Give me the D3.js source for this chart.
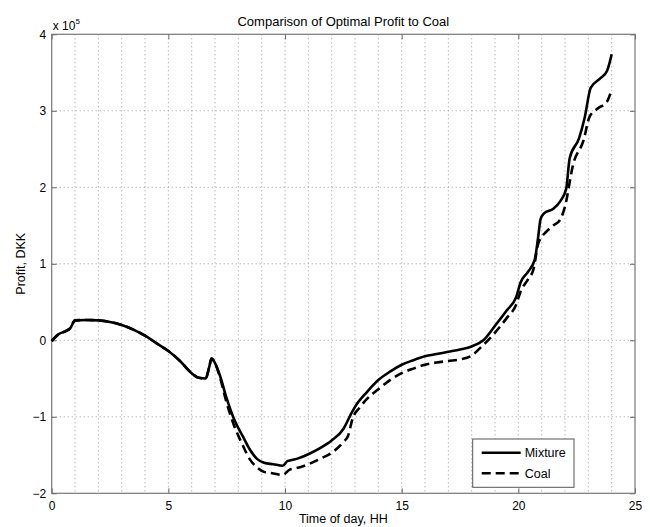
<!DOCTYPE html>
<html>
<head>
<meta charset="utf-8">
<script src="https://cdn.jsdelivr.net/npm/d3@7"></script>
<style>
  body { margin: 0; background: #fff; }
  text { font-family: "Liberation Sans", Arial, sans-serif; fill: #000; }
</style>
</head>
<body>
<div id="chart"></div>
<script>
// values (profit in DKK, time in hours)
var mixtureHours = [0, 0.3, 0.6, 0.8, 1.0, 1.5, 2.0, 2.5, 3.0, 3.5, 4.0, 4.5, 5.0, 5.5, 6.0, 6.3, 6.6, 6.75, 6.85, 6.95,
    7.2, 7.5, 7.8, 8.2, 8.5, 8.8, 9.1, 9.5, 9.9, 10.1, 10.5, 11.0, 11.5, 12.0, 12.5, 12.8, 13.0, 13.5, 14.0, 14.5,
    15.0, 15.5, 16.0, 16.5, 17.0, 17.5, 18.0, 18.5, 19.0, 19.5, 19.9, 20.1, 20.4, 20.7, 20.85, 20.95, 21.1, 21.5,
    21.8, 22.05, 22.2, 22.6, 22.85, 23.1, 23.5, 23.8, 24.0];
var mixtureProfit = [-1000, 8000, 12000, 16000, 26000, 26500, 26000, 24000, 20000, 14000, 6000, -4000, -14000, -27000, -43000, -49000, -50000, -35000, -24000, -27000,
    -45000, -76000, -102000, -126000, -143000, -155000, -160000, -162000, -164000, -158000, -155000, -149000, -141000, -131000, -116000, -98000, -87000, -68000, -52000, -41000,
    -32000, -26000, -21000, -18000, -15000, -12000, -8000, 0, 19000, 39000, 56000, 76000, 89000, 105000, 135000, 158000, 166000, 172000,
    182000, 198000, 238000, 264000, 292000, 330000, 342000, 352000, 374000];

var coalHours = [0, 0.3, 0.6, 0.8, 1.0, 1.5, 2.0, 2.5, 3.0, 3.5, 4.0, 4.5, 5.0, 5.5, 6.0, 6.3, 6.6, 6.75, 6.85, 6.95,
    7.2, 7.5, 7.8, 8.2, 8.5, 8.8, 9.1, 9.5, 9.9, 10.2, 10.5, 11.0, 11.5, 12.0, 12.5, 12.7, 12.9, 13.2, 13.5, 14.0, 14.5,
    15.0, 15.5, 16.0, 16.5, 17.0, 17.5, 18.0, 18.4, 19.0, 19.5, 19.9, 20.1, 20.4, 20.65, 20.85, 21.2, 21.5,
    21.8, 22.0, 22.35, 22.8, 23.05, 23.4, 23.8, 24.0];
var coalProfit = [-1000, 8000, 12000, 16000, 26000, 26500, 26000, 24000, 20000, 14000, 6000, -4000, -14000, -27000, -43000, -49000, -50000, -35000, -24000, -27000,
    -47000, -82000, -110000, -138000, -156000, -166000, -172000, -174000, -176000, -169000, -167000, -162000, -155000, -147000, -133000, -125000, -102000, -88000, -77000, -64000, -52000,
    -43000, -37000, -32000, -29000, -27000, -25000, -20000, -9000, 10000, 29000, 46000, 64000, 79000, 93000, 126000, 142000, 150000,
    158000, 175000, 230000, 262000, 292000, 303000, 312000, 328000];

var seriesNames = ["Mixture", "Coal"];
var xTicks = [0, 5, 10, 15, 20, 25];
var yTicks = [-200000, -100000, 0, 100000, 200000, 300000, 400000];

var width = 650, height = 527;
var plotLeft = 51.7, plotRight = 635, plotTop = 34.3, plotBottom = 493.3;

var svg = d3.select("#chart").append("svg")
    .attr("width", width)
    .attr("height", height);

var x = d3.scaleLinear().domain([0, 25]).range([plotLeft, plotRight]);
var y = d3.scaleLinear().domain([-200000, 400000]).range([plotBottom, plotTop]);

// dotted grid: every hour vertically, every major tick horizontally
svg.append("g").selectAll("line")
    .data(d3.range(1, 25))
    .enter().append("line")
        .attr("x1", d => x(d)).attr("x2", d => x(d))
        .attr("y1", plotTop).attr("y2", plotBottom)
        .attr("stroke", "#999")
        .attr("stroke-dasharray", "1,3");
svg.append("g").selectAll("line")
    .data(yTicks.slice(1, -1))
    .enter().append("line")
        .attr("x1", plotLeft).attr("x2", plotRight)
        .attr("y1", d => y(d)).attr("y2", d => y(d))
        .attr("stroke", "#999")
        .attr("stroke-dasharray", "1,3");

var fmtY = d => d3.format("d")(d / 100000);

function styleAxis(g) {
    g.select(".domain").remove();
    g.selectAll(".tick line").attr("stroke", "#666");
    g.selectAll("text").attr("font-size", 12).attr("fill", "#000")
        .attr("font-family", "Liberation Sans, Arial, sans-serif");
}

svg.append("g").attr("transform", "translate(0," + plotBottom + ")")
    .call(d3.axisBottom(x).tickValues(xTicks).tickSizeInner(-5).tickSizeOuter(0).tickPadding(8))
    .call(styleAxis);
svg.append("g").attr("transform", "translate(0," + plotTop + ")")
    .call(d3.axisTop(x).tickValues(xTicks).tickSizeInner(-5).tickSizeOuter(0).tickFormat(""))
    .call(styleAxis);
svg.append("g").attr("transform", "translate(" + plotLeft + ",0)")
    .call(d3.axisLeft(y).tickValues(yTicks).tickSizeInner(-5).tickSizeOuter(0).tickPadding(5.5).tickFormat(fmtY))
    .call(styleAxis);
svg.append("g").attr("transform", "translate(" + plotRight + ",0)")
    .call(d3.axisRight(y).tickValues(yTicks).tickSizeInner(-5).tickSizeOuter(0).tickFormat(""))
    .call(styleAxis);

// axes box
svg.append("rect")
    .attr("x", plotLeft).attr("y", plotTop)
    .attr("width", plotRight - plotLeft).attr("height", plotBottom - plotTop)
    .attr("fill", "none")
    .attr("stroke", "#777")
    .attr("stroke-width", 1.2);

var line = d3.line()
    .x(d => x(d[0]))
    .y(d => y(d[1]))
    .curve(d3.curveMonotoneX);

svg.append("path")
    .datum(d3.zip(coalHours, coalProfit))
    .attr("d", line)
    .attr("fill", "none")
    .attr("stroke", "#000")
    .attr("stroke-width", 2.6)
    .attr("stroke-dasharray", "9,5");

svg.append("path")
    .datum(d3.zip(mixtureHours, mixtureProfit))
    .attr("d", line)
    .attr("fill", "none")
    .attr("stroke", "#000")
    .attr("stroke-width", 2.6);

// exponent label
var expo = svg.append("text")
    .attr("x", plotLeft + 1)
    .attr("y", 30)
    .attr("font-size", 12);
expo.append("tspan").text("x 10");
expo.append("tspan").attr("font-size", 8).attr("dy", -6).text("5");

// title and axis labels
svg.append("text")
    .attr("x", (plotLeft + plotRight) / 2)
    .attr("y", 26)
    .attr("text-anchor", "middle")
    .attr("font-size", 13)
    .text("Comparison of Optimal Profit to Coal");

svg.append("text")
    .attr("x", (plotLeft + plotRight) / 2)
    .attr("y", 523)
    .attr("text-anchor", "middle")
    .attr("font-size", 12.5)
    .text("Time of day, HH");

svg.append("text")
    .attr("transform", "translate(25," + ((plotTop + plotBottom) / 2) + ") rotate(-90)")
    .attr("text-anchor", "middle")
    .attr("font-size", 12.5)
    .text("Profit, DKK");

// legend
var legend = svg.append("g").attr("transform", "translate(472.7,439)");
legend.append("rect")
    .attr("width", 101.3).attr("height", 48.3)
    .attr("fill", "#fff")
    .attr("stroke", "#555");
legend.selectAll(".entry")
    .data(seriesNames)
    .enter().append("g")
        .attr("class", "entry")
        .attr("transform", (d, i) => "translate(0," + (13.7 + i * 20.6) + ")")
        .each(function(d, i) {
            var g = d3.select(this);
            g.append("line")
                .attr("x1", 9).attr("x2", 48)
                .attr("stroke", "#000")
                .attr("stroke-width", 2.6)
                .attr("stroke-dasharray", i === 1 ? "9,5" : null);
            g.append("text")
                .attr("x", 52).attr("dy", "0.35em")
                .attr("font-size", 12.5)
                .text(d);
        });
</script>
</body>
</html>
